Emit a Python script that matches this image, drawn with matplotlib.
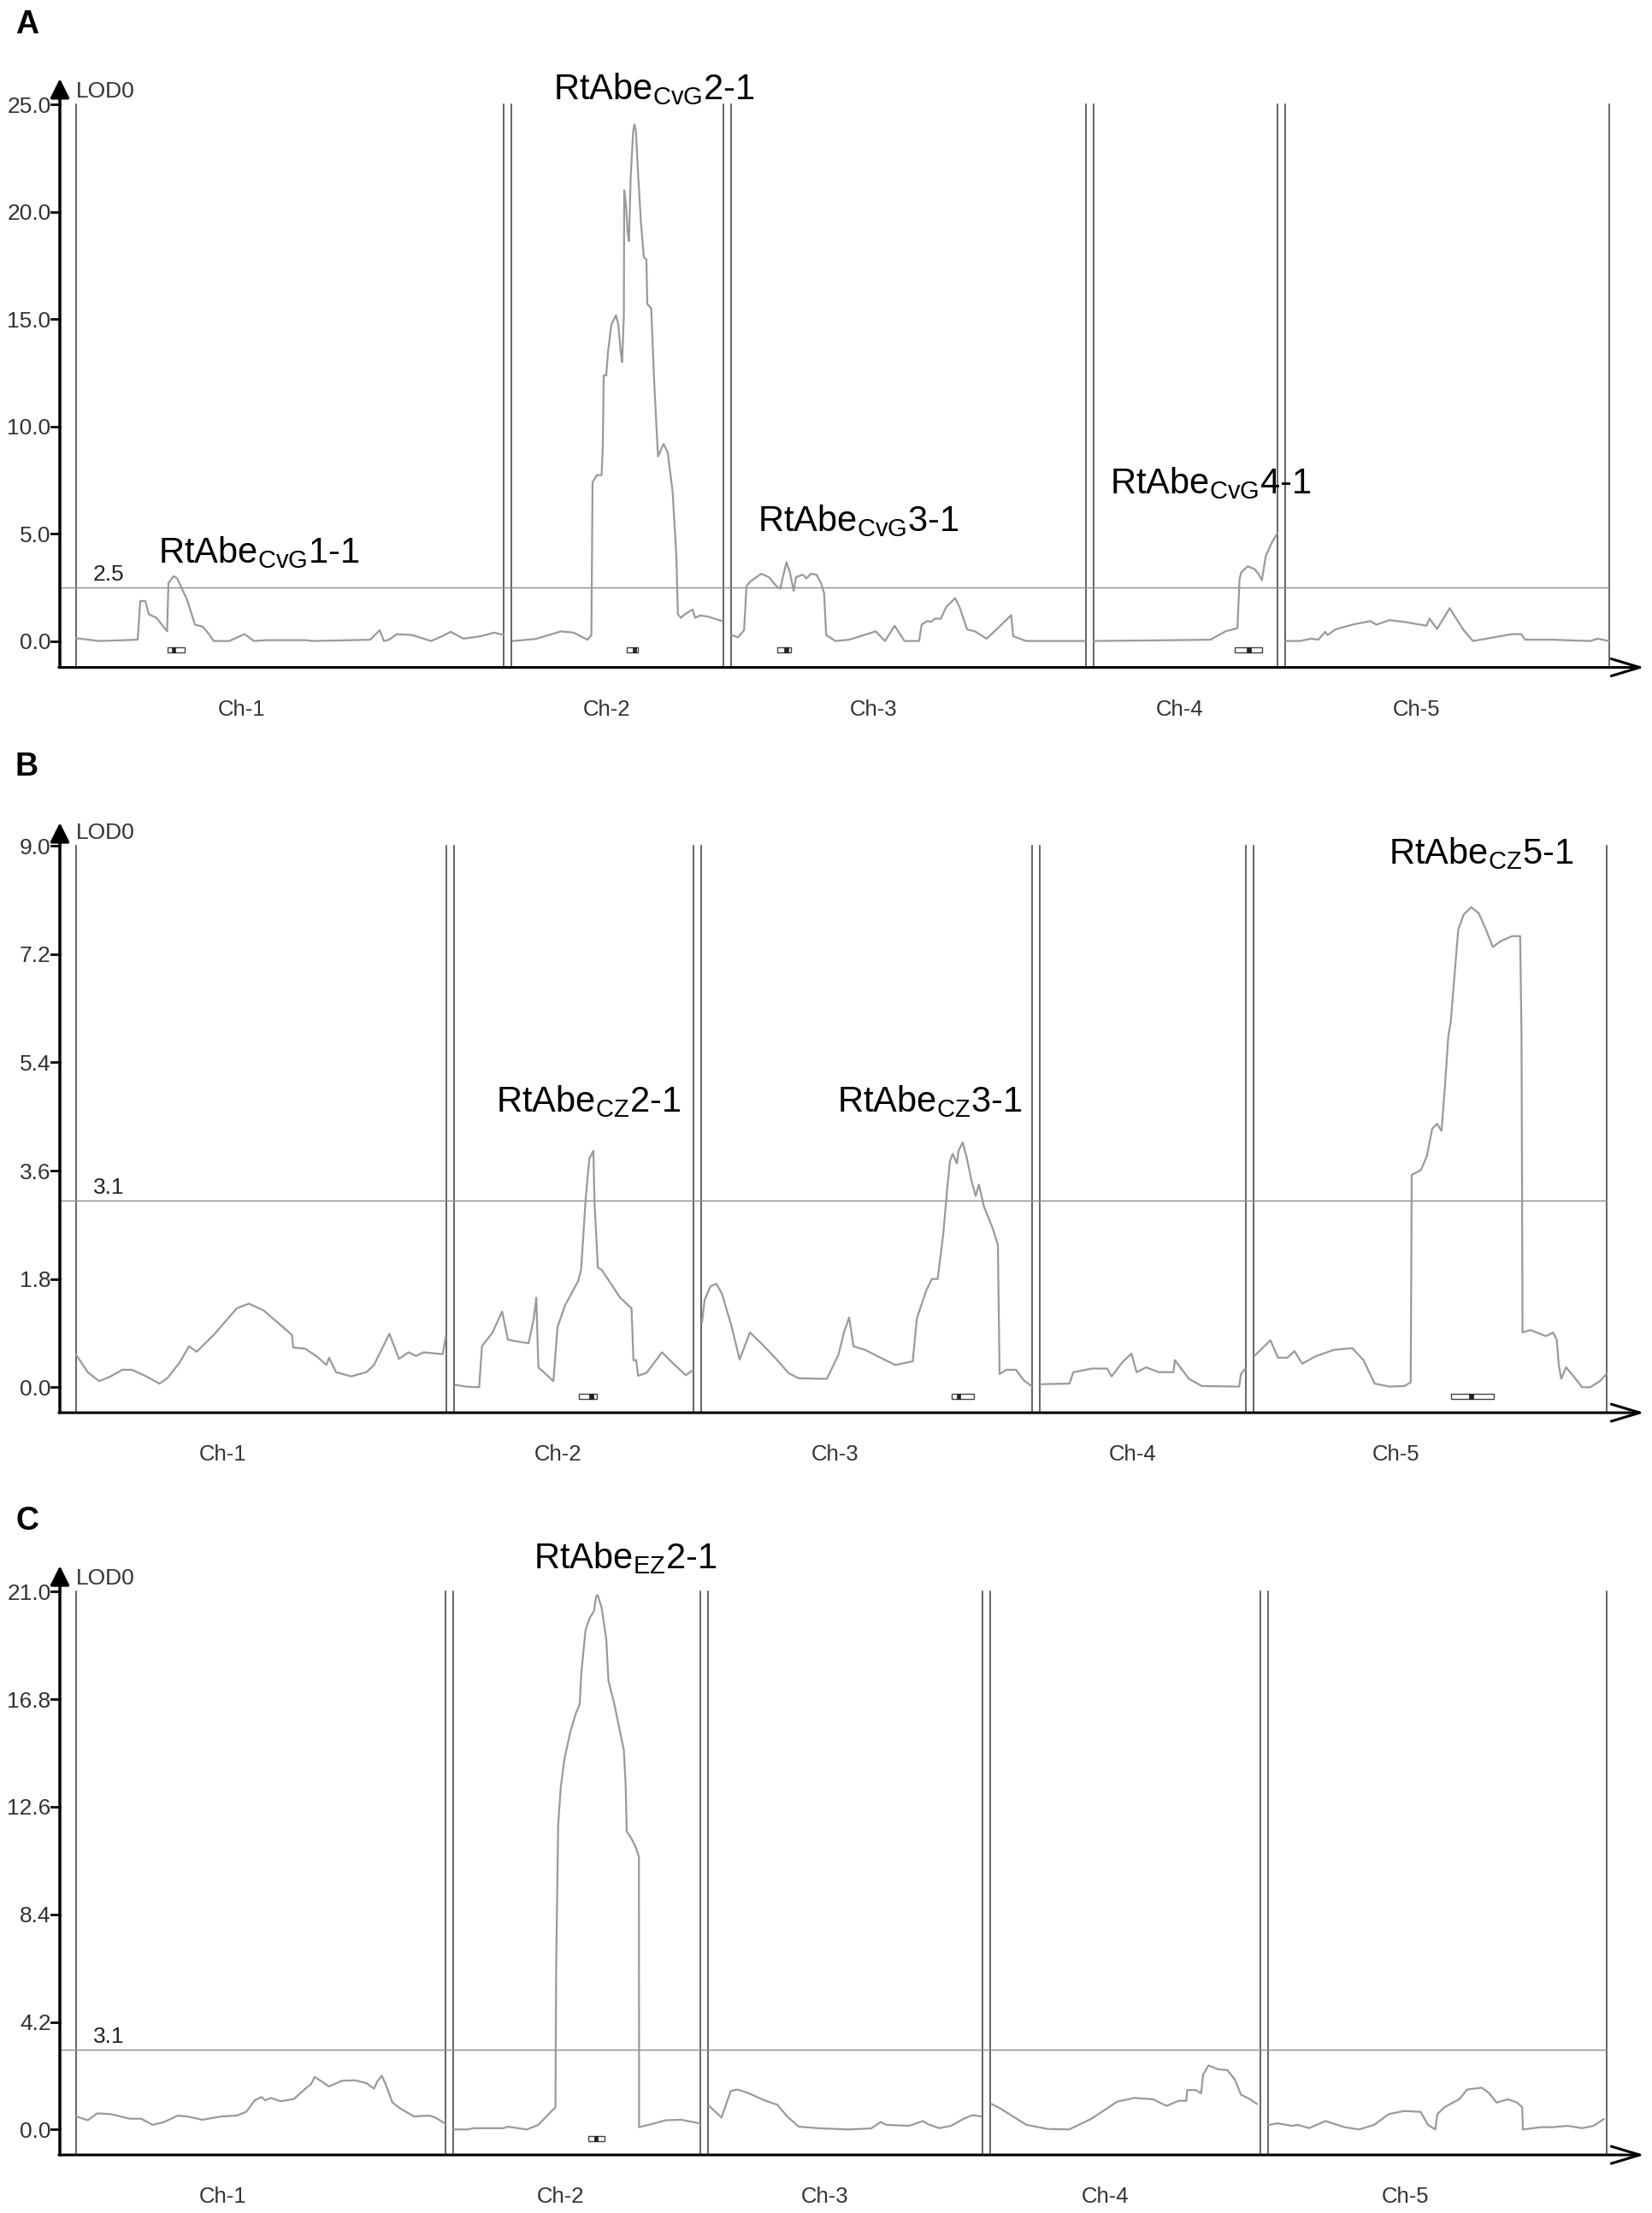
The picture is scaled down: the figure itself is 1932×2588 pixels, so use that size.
import numpy as np
import matplotlib
matplotlib.use("Agg")
import matplotlib.pyplot as plt
from matplotlib.patches import Rectangle
from matplotlib.transforms import offset_copy

plt.rcParams['font.family'] = ['Liberation Sans', 'DejaVu Sans']
plt.rcParams['mathtext.default'] = 'regular'

W, H = 1932, 2588
GAP = 2.25      # cM between chromosome blocks
MARGIN = 4.75   # cM between y axis and Ch-1
XMAX = 463.75

ch_names = ['Ch-1', 'Ch-2', 'Ch-3', 'Ch-4', 'Ch-5']

# ---------------- panel A (CvG) ----------------
a_len = [125.0, 61.9, 103.8, 53.8, 94.8]
a_pos = [
    [0, 6.75, 18, 18.75, 20.25, 21.25, 23.5, 26.6, 27, 28.5, 29.6, 32.5, 34.75, 37, 38.5, 40.25, 44.75,
     49.25, 52, 55.75, 67, 69.25, 86, 88.75, 90, 91.5, 93.75, 98.25, 103.75, 107.25, 109.5, 113.25,
     118.25, 122.25, 125],
    [0.5, 7.25, 14.5, 18.25, 22.25, 23.4, 23.75, 25, 26.4, 26.75, 27, 27.75, 28.25, 29.25, 30.6, 31.25,
     32, 32.4, 32.9, 33, 33.5, 34, 34.4, 34.9, 35.65, 36, 36.45, 37.1, 37.9, 38.75, 39.5, 39.75, 40.9,
     41.75, 42.7, 42.9, 44.5, 45.7, 47.15, 48.25, 48.7, 49.6, 50.75, 53, 53.75, 55.2, 57.4, 61.65],
    [0.2, 2.1, 3.9, 4.6, 5.6, 8.9, 11.1, 13.4, 14.5, 15.4, 16.3, 17.3, 18.4, 19.1, 21.1, 22.1, 23.4, 25.1,
     26.5, 27.3, 27.9, 30.6, 34.6, 42.4, 45.1, 47.9, 50.8, 55.1, 55.8, 57.4, 58.6, 59.6, 61.4, 63, 65.6,
     66.9, 69.1, 71.4, 74.8, 78.1, 82, 82.6, 86.4, 103.6],
    [0, 12.4, 34.2, 38.6, 42.1, 42.7, 43.2, 45.1, 47.1, 48.4, 49.25, 50.35, 52.2, 53.8],
    [0.2, 4.35, 7.6, 9.7, 11.7, 12.4, 14.7, 19.6, 24.9, 26.7, 30.4, 34.8, 41.3, 42.2, 44.4, 48.1, 52.2,
     54.9, 61, 66.3, 69, 70.2, 78.2, 89.2, 91.35, 94.6],
]
a_lod = [
    [0.13, 0, 0.06, 1.86, 1.86, 1.25, 1.08, 0.45, 2.7, 3.02, 2.91, 1.9, 0.76, 0.67, 0.39, 0, 0, 0.32, 0,
     0.04, 0.04, 0, 0.06, 0.5, 0, 0.06, 0.32, 0.28, 0, 0.24, 0.43, 0.11, 0.22, 0.39, 0.28],
    [0, 0.1, 0.45, 0.39, 0.06, 0.28, 7.4, 7.73, 7.73, 9.13, 12.37, 12.37, 13.45, 14.75, 15.18, 14.75,
     13.45, 13.0, 15.18, 21.0, 20.36, 19.06, 18.63, 21.65, 23.8, 24.07, 23.7, 21.65, 19.5, 17.88, 17.77,
     15.7, 15.5, 12.15, 9.13, 8.6, 9.18, 8.8, 6.97, 3.95, 1.25, 1.08, 1.25, 1.47, 1.08, 1.19, 1.14, 0.93],
    [0.28, 0.17, 0.5, 2.55, 2.76, 3.13, 2.98, 2.55, 2.44, 3.09, 3.67, 3.2, 2.33, 2.98, 3.09, 2.91, 3.13,
     3.09, 2.66, 2.22, 0.28, 0, 0.06, 0.45, 0, 0.71, 0, 0, 0.76, 0.93, 0.89, 1.04, 1.04, 1.58, 2.0, 1.58,
     0.54, 0.45, 0.11, 0.6, 1.21, 0.22, 0, 0],
    [0, 0.02, 0.06, 0.45, 0.6, 2.87, 3.2, 3.48, 3.35, 3.09, 2.83, 3.95, 4.6, 5.03],
    [0, 0, 0.11, 0.06, 0.43, 0.28, 0.54, 0.76, 0.93, 0.76, 0.97, 0.89, 0.71, 1.04, 0.56, 1.53, 0.5, 0,
     0.17, 0.32, 0.32, 0.06, 0.06, 0, 0.11, 0],
]
a_ticks = [0, 5, 10, 15, 20, 25]
a_thr = 2.5
a_ci = [(0, 26.75, 31.75, 28.5), (1, 33.75, 36.9, 36.0), (2, 13.6, 17.6, 16.3), (3, 41.4, 49.2, 45.4)]
a_qtl = ['RtAbe$_{CvG}$1-1', 'RtAbe$_{CvG}$2-1', 'RtAbe$_{CvG}$3-1', 'RtAbe$_{CvG}$4-1']

# ---------------- panel B (CZ) ----------------
b_len = [108.3, 69.9, 96.8, 60.3, 103.3]
b_pos = [
    [0, 3.4, 6.75, 10.1, 13.5, 16.25, 20.15, 24.4, 26.85, 30.25, 33, 35.25, 40.25, 46.95, 50.5, 54.75,
     59.25, 63.1, 63.5, 67, 70.4, 73.2, 73.95, 76, 80.4, 84.9, 87.1, 91.6, 94.4, 97.2, 99.4, 101.6, 107.2,
     108.1],
    [0.4, 3.4, 7.3, 8.1, 11.2, 14, 15.7, 18.5, 21.75, 23.25, 24, 24.6, 26.75, 29, 30.2, 32.4, 36.2, 37.1,
     38.45, 39.5, 40.7, 41, 42, 43.15, 48.5, 51.85, 52.4, 53.2, 53.75, 56.25, 60.75, 64.1, 67.7, 69.7],
    [0.3, 1.06, 2.8, 4.5, 6.1, 8.9, 11.3, 14.3, 17.8, 22.3, 25.7, 28.5, 34.6, 36.8, 40.2, 41.8, 43.3, 44.6,
     48, 52.5, 56.8, 61.9, 63.1, 65.8, 67.5, 69.2, 70.8, 72, 72.8, 73.6, 74.8, 75.3, 76.5, 77.6, 79.2,
     80.3, 81.25, 82.8, 85.3, 86.8, 87.3, 89.3, 92.1, 94.3, 96.6],
    [0.3, 8.7, 9.8, 15.3, 19.7, 21, 24.1, 26.8, 28.3, 31.1, 34.8, 39.1, 39.5, 43.6, 47.4, 58.3, 58.8, 60.1],
    [0.2, 4.9, 7.1, 9.8, 11.9, 14.2, 17.9, 23.4, 28.8, 32.1, 35.35, 39.7, 44.05, 45.9, 46.2, 48.9, 50.6,
     52.2, 53.6, 54.9, 55.9, 56.9, 57.6, 58.7, 59.8, 61.4, 63.6, 65.8, 67.9, 69.9, 72.3, 75.6, 77.9, 78.3,
     78.6, 80.9, 85.4, 87.55, 88.6, 89.2, 89.9, 91.35, 94.1, 96, 98.4, 101.2, 103.1],
]
b_lod = [
    [0.54, 0.25, 0.10, 0.18, 0.29, 0.29, 0.19, 0.06, 0.16, 0.41, 0.68, 0.59, 0.87, 1.31, 1.39, 1.28, 1.06,
     0.87, 0.66, 0.64, 0.51, 0.37, 0.49, 0.25, 0.18, 0.25, 0.37, 0.89, 0.47, 0.58, 0.52, 0.58, 0.55, 0.85],
    [0.04, 0.01, 0.0, 0.68, 0.91, 1.26, 0.79, 0.76, 0.73, 1.14, 1.49, 0.33, 0.22, 0.10, 1.0, 1.36, 1.76,
     1.95, 3.14, 3.80, 3.93, 3.1, 1.99, 1.95, 1.49, 1.31, 0.45, 0.45, 0.19, 0.24, 0.58, 0.39, 0.20, 0.28],
    [1.08, 1.45, 1.68, 1.72, 1.56, 1.02, 0.46, 0.91, 0.72, 0.45, 0.23, 0.15, 0.14, 0.14, 0.54, 0.91, 1.16,
     0.68, 0.62, 0.49, 0.37, 0.43, 1.14, 1.60, 1.80, 1.80, 2.53, 3.30, 3.76, 3.88, 3.72, 3.93, 4.07, 3.84,
     3.41, 3.18, 3.37, 2.99, 2.64, 2.37, 0.22, 0.29, 0.29, 0.12, 0.02],
    [0.05, 0.06, 0.25, 0.31, 0.31, 0.18, 0.41, 0.56, 0.25, 0.33, 0.25, 0.25, 0.45, 0.14, 0.02, 0.01, 0.22,
     0.31],
    [0.52, 0.78, 0.49, 0.49, 0.60, 0.39, 0.51, 0.62, 0.65, 0.45, 0.06, 0.01, 0.02, 0.08, 3.53, 3.61, 3.84,
     4.30, 4.38, 4.26, 4.99, 5.84, 6.07, 6.84, 7.61, 7.86, 7.98, 7.88, 7.61, 7.32, 7.42, 7.50, 7.50, 5.84,
     0.91, 0.95, 0.85, 0.91, 0.79, 0.37, 0.14, 0.33, 0.14, 0.0, 0.0, 0.10, 0.22],
]
b_ticks = [0, 1.8, 3.6, 5.4, 7.2, 9.0]
b_thr = 3.1
b_ci = [(1, 36.45, 41.6, 40.0), (2, 73.4, 79.8, 75.3), (4, 57.6, 70.15, 63.6)]
b_qtl = ['RtAbe$_{CZ}$2-1', 'RtAbe$_{CZ}$3-1', 'RtAbe$_{CZ}$5-1']

# ---------------- panel C (EZ) ----------------
c_len = [108.0, 72.2, 80.4, 78.9, 99.0]
c_pos = [
    [0, 3.4, 6.2, 10.1, 15.7, 19, 22.4, 25.75, 29.65, 32.4, 36.9, 42.5, 46.95, 49.75, 52.25, 54.2, 55.25,
     57, 59.75, 63.7, 67, 68.7, 69.75, 71.5, 73.95, 77.65, 81.5, 84.9, 87.1, 88, 89.35, 90.5, 92.5, 94.9,
     98.75, 103.25, 105, 107.75],
    [0.25, 4.25, 5.9, 14.75, 15.9, 21.5, 24.9, 29.9, 30.1, 30.7, 31.45, 32.5, 34.25, 35.9, 37, 37.5, 38.7,
     39.9, 41.15, 41.8, 42.25, 43.4, 44.75, 45.4, 47.1, 48.5, 49.9, 50.4, 50.75, 52.1, 53.4, 54.3, 54.35,
     57.7, 62.15, 66.6, 72],
    [0.35, 4, 6.7, 8.7, 12.05, 16.5, 20.35, 23.2, 26.55, 32.1, 41.1, 47.75, 50.55, 52.2, 58.85, 62.85,
     64.5, 67.6, 71.1, 74.55, 77.35, 79.85],
    [0.25, 2.75, 10.5, 16.75, 23, 29.5, 37.1, 42, 47.5, 51.5, 55, 57.25, 57.5, 60, 61.6, 62.15, 63.75,
     66.5, 69.2, 71.4, 73.25, 75.75, 77.9],
    [0.2, 2.7, 7.1, 8.7, 12, 16.8, 22.3, 26.6, 31, 35.3, 39.7, 44.6, 46.75, 48.9, 49.5, 51.6, 56, 58.2,
     62.5, 64.7, 66.8, 70.1, 72.8, 74.3, 74.5, 79.9, 83.2, 87.55, 91.8, 95.15, 98.1],
]
c_lod = [
    [0.51, 0.36, 0.63, 0.60, 0.42, 0.42, 0.18, 0.29, 0.54, 0.51, 0.38, 0.51, 0.54, 0.69, 1.14, 1.27, 1.14,
     1.23, 1.10, 1.19, 1.59, 1.77, 2.05, 1.90, 1.68, 1.90, 1.92, 1.81, 1.59, 1.86, 2.10, 1.77, 1.05, 0.81,
     0.51, 0.54, 0.47, 0.24],
    [0.0, 0.0, 0.05, 0.05, 0.11, 0.0, 0.18, 0.87, 6.30, 11.91, 13.36, 14.45, 15.53, 16.26, 16.62, 17.89,
     19.51, 19.97, 20.24, 20.82, 20.87, 20.38, 19.15, 17.52, 16.62, 15.71, 14.81, 13.54, 11.64, 11.37,
     11.01, 10.64, 0.09, 0.20, 0.36, 0.38, 0.24],
    [0.92, 0.47, 1.50, 1.56, 1.41, 1.14, 0.96, 0.51, 0.11, 0.05, 0.0, 0.04, 0.29, 0.18, 0.14, 0.33, 0.20,
     0.05, 0.14, 0.40, 0.56, 0.51],
    [1.0, 0.83, 0.18, 0.02, 0.0, 0.42, 1.09, 1.23, 1.18, 0.92, 1.12, 1.12, 1.54, 1.54, 1.41, 2.14, 2.50,
     2.35, 2.32, 1.96, 1.36, 1.19, 1.00],
    [0.18, 0.24, 0.14, 0.18, 0.05, 0.33, 0.09, 0.0, 0.18, 0.60, 0.72, 0.69, 0.18, 0.0, 0.60, 0.87, 1.19,
     1.56, 1.63, 1.41, 1.05, 1.18, 1.05, 0.87, 0.0, 0.09, 0.09, 0.14, 0.05, 0.14, 0.40],
]
c_ticks = [0, 4.2, 8.4, 12.6, 16.8, 21.0]
c_thr = 3.1
c_ci = [(1, 39.4, 44.25, 41.75)]
c_qtl = ['RtAbe$_{EZ}$2-1']

fig = plt.figure(figsize=(W / 100, H / 100), dpi=100)


def draw_panel(top_px, bot_px, ylim, chr_len, pos, lod, ticks, thr, ci, qtl, qtl_xy, ch_x, letter, letter_y):
    ax = fig.add_axes([70 / W, 1 - bot_px / H, 1855 / W, (bot_px - top_px) / H])
    ax.set_xlim(0, XMAX)
    ax.set_ylim(*ylim)
    ax.axis('off')
    ymin, ymax = ylim
    px_per_lod = (bot_px - top_px) / (ymax - ymin)

    starts = []
    s = MARGIN
    for L in chr_len:
        starts.append(s)
        s += L + GAP
    end_last = starts[-1] + chr_len[-1]

    # chromosome boundaries
    for st, L in zip(starts, chr_len):
        for xx in (st, st + L):
            ax.plot([xx, xx], [ymin, ticks[-1]], color='#3a3a3a', lw=1.1, clip_on=False)

    # threshold
    ax.plot([0, end_last], [thr, thr], color='#8a8a8a', lw=1.0)
    up = offset_copy(ax.transData, fig=fig, x=0, y=8, units='dots')
    ax.text(9.75, thr, str(thr), transform=up, fontsize=19, color='#222', ha='left', va='baseline')

    # LOD profiles
    for st, p, v in zip(starts, pos, lod):
        ax.plot(st + np.array(p), v, color='#9a9a9a', lw=1.6, clip_on=False)

    # support intervals
    off = 10.5 / px_per_lod
    h = 6.0 / px_per_lod
    for ci_chr, lo, hi, pk in ci:
        st = starts[ci_chr]
        ax.add_patch(Rectangle((st + lo, -off - h / 2), hi - lo, h, facecolor='white',
                               edgecolor='#444', lw=1.0, clip_on=False))
        ax.add_patch(Rectangle((st + pk - 0.6, -off - h / 2), 1.2, h, facecolor='#222',
                               edgecolor='#222', lw=0.5, clip_on=False))

    # axes with arrows
    ax.annotate('', xy=(0, ymax), xytext=(0, ymin), annotation_clip=False,
                arrowprops=dict(arrowstyle='-|>', lw=2.5, color='black', mutation_scale=34,
                                shrinkA=0, shrinkB=0))
    ax.annotate('', xy=(463.25, ymin), xytext=(-0.3, ymin), annotation_clip=False,
                arrowprops=dict(arrowstyle='->,head_length=1.0,head_width=0.3', lw=2.2,
                                color='black', mutation_scale=24, shrinkA=0, shrinkB=0))
    for t in ticks:
        ax.plot([-2.5, 0], [t, t], color='black', lw=2, clip_on=False)
        ax.text(-2.6, t, '%.1f' % t, ha='right', va='center_baseline', fontsize=19, color='#333')
    ax.text(MARGIN, ticks[-1], 'LOD0', transform=up, fontsize=19, color='#333', ha='left', va='baseline')

    # chromosome names
    down = offset_copy(ax.transData, fig=fig, x=0, y=-49, units='dots')
    for name, xx in zip(ch_names, ch_x):
        ax.text(xx, ymin, name, transform=down, ha='center', va='center', fontsize=18.5, color='#333')

    # QTL names
    for name, (xx, yy) in zip(qtl, qtl_xy):
        ax.text(xx, yy, name, fontsize=30, color='black', ha='left', va='baseline')

    fig.text(18 / W, 1 - letter_y / H, letter, fontsize=27, fontweight='bold', ha='left', va='baseline')


draw_panel(92, 780.5, (-1.23, 26.2), a_len, a_pos, a_lod, a_ticks, a_thr, a_ci, a_qtl,
           [(28.75, 3.65), (144.25, 25.22), (204, 5.14), (307, 6.88)],
           [53.25, 159.75, 238, 327.5, 396.75], 'A', 39)
draw_panel(962.1, 1652.1, (-0.424, 9.386), b_len, b_pos, b_lod, b_ticks, b_thr, b_ci, b_qtl,
           [(127.5, 4.585), (227.15, 4.585), (388.5, 8.71)],
           [47.75, 145.7, 226.75, 313.75, 390.75], 'B', 907)
draw_panel(1831.2, 2520.1, (-0.995, 22.01), c_len, c_pos, c_lod, c_ticks, c_thr, c_ci, c_qtl,
           [(138.6, 21.9)],
           [47.75, 146.25, 223.75, 305.65, 393.4], 'C', 1789)

fig.savefig('out.png', dpi=100)
